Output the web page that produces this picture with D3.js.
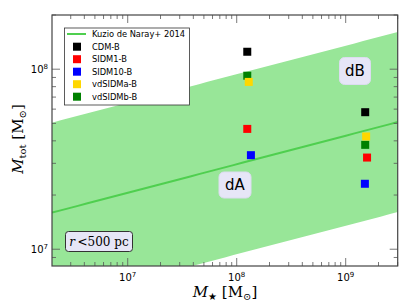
<!DOCTYPE html>
<html><head><meta charset="utf-8">
<script src="https://cdn.jsdelivr.net/npm/d3@7"></script>
<style>body{margin:0;background:#fff}svg{display:block}</style>
</head><body>
<svg id="c" width="407" height="305"></svg>
<script>
// ---- data ----
const seriesNames = ["CDM-B","SIDM1-B","SIDM10-B","vdSIDMa-B","vdSIDMb-B"];
const seriesColors = ["#000000","#ff0000","#0000ff","#ffd700","#008000"];
// [M_star, M_tot] for dwarf A and dwarf B
const cdmB     = [[1.25e8,1.25e8],[1.51e9,5.77e7]];
const sidm1B   = [[1.25e8,4.66e7],[1.57e9,3.23e7]];
const sidm10B  = [[1.35e8,3.33e7],[1.50e9,2.31e7]];
const vdsidmaB = [[1.29e8,8.5e7],[1.54e9,4.23e7]];
const vdsidmbB = [[1.25e8,9.2e7],[1.51e9,3.8e7]];
const seriesValues = [cdmB, sidm1B, sidm10B, vdsidmaB, vdsidmbB];
const drawOrder = [0,4,3,1,2];
// Kuzio de Naray+ 2014 relation: log Mtot = a + b (log M* - 8), scatter +-0.5 dex
const kdnA = 7.472, kdnB = 0.1586, kdnScatter = 0.5;
const xDomain = [2.02e6, 3.0e9];
const yDomain = [8.07e6, 2.0e8];
const xTickLabels = [1e7,1e8,1e9];
const yTickLabels = [1e7,1e8];

const svg = d3.select("#c");
const L=52, R=397.7, T=15, B=266;
const x = d3.scaleLog().domain(xDomain).range([L,R]);
const y = d3.scaleLog().domain(yDomain).range([B,T]);

const kdn = lx => kdnA + kdnB*(lx-8);
const xs = d3.range(0,41).map(i => Math.log10(xDomain[0]) + i*(Math.log10(xDomain[1])-Math.log10(xDomain[0]))/40);

svg.append("defs").append("clipPath").attr("id","pc").append("rect")
  .attr("x",L).attr("y",T).attr("width",R-L).attr("height",B-T);
const g = svg.append("g").attr("clip-path","url(#pc)");

g.append("path").datum(xs)
  .attr("d", d3.area().x(d=>x(10**d)).y0(d=>y(10**(kdn(d)-kdnScatter))).y1(d=>y(10**(kdn(d)+kdnScatter))))
  .attr("fill","#98e698");
g.append("path").datum(xs)
  .attr("d", d3.line().x(d=>x(10**d)).y(d=>y(10**kdn(d))))
  .attr("fill","none").attr("stroke","#4fcf4f").attr("stroke-width",2);

const S=8;
drawOrder.forEach(i=>{
  g.selectAll(null).data(seriesValues[i]).enter().append("rect")
    .attr("x",d=>x(d[0])-S/2).attr("y",d=>y(d[1])-S/2).attr("width",S).attr("height",S)
    .attr("fill",seriesColors[i]);
});

// label boxes
function labelBox(cx, cy, w, h, opts){
  const gg = svg.append("g");
  gg.append("rect").attr("x",cx-w/2).attr("y",cy-h/2).attr("width",w).attr("height",h)
    .attr("rx",opts.rx).attr("fill","#e6e6f7").attr("stroke",opts.stroke).attr("stroke-width",opts.sw);
  return gg.append("text").attr("x",cx).attr("y",cy).attr("text-anchor","middle").attr("dy","0.36em")
    .attr("font-family",opts.font).attr("font-size",opts.size).attr("fill","#000");
}
labelBox(355,71,31,27,{rx:5,stroke:"#dcdcf0",sw:1,font:"DejaVu Sans",size:15}).text("dB");
labelBox(235,185,32,26,{rx:5,stroke:"#dcdcf0",sw:1,font:"DejaVu Sans",size:15}).text("dA");
const rt = labelBox(99,241.5,67,20,{rx:3,stroke:"#333",sw:1,font:"DejaVu Serif",size:12});
rt.append("tspan").attr("font-style","italic").text("r");
rt.append("tspan").text("\u2009<500 pc");

// axes ticks (inward, all four sides)
const ax = svg.append("g").attr("stroke","#555").attr("stroke-width",0.8);
function logTicks(dom){
  const out=[];
  for(let e=Math.floor(Math.log10(dom[0])); e<=Math.ceil(Math.log10(dom[1])); e++){
    for(let m=1;m<10;m++){const v=m*10**e; if(v>=dom[0]&&v<=dom[1]) out.push([v,m===1]);}
  }
  return out;
}
logTicks(xDomain).forEach(([v,maj])=>{
  const len = maj?8:4, px=x(v);
  ax.append("line").attr("x1",px).attr("x2",px).attr("y1",B).attr("y2",B-len);
  ax.append("line").attr("x1",px).attr("x2",px).attr("y1",T).attr("y2",T+len);
});
logTicks(yDomain).forEach(([v,maj])=>{
  const len = maj?8:4, py=y(v);
  ax.append("line").attr("y1",py).attr("y2",py).attr("x1",L).attr("x2",L+len);
  ax.append("line").attr("y1",py).attr("y2",py).attr("x1",R).attr("x2",R-len);
});
svg.append("rect").attr("x",L).attr("y",T).attr("width",R-L).attr("height",B-T)
  .attr("fill","none").attr("stroke","#444").attr("stroke-width",1.2);

// tick labels
xTickLabels.forEach(v=>{
  const t=svg.append("text").attr("x",x(v)).attr("y",B+15).attr("text-anchor","middle")
    .attr("font-family","DejaVu Sans").attr("font-size",10);
  t.append("tspan").text("10");
  t.append("tspan").attr("dy",-4).attr("font-size",7).text(Math.round(Math.log10(v)));
});
yTickLabels.forEach(v=>{
  const t=svg.append("text").attr("x",L-4).attr("y",y(v)+4).attr("text-anchor","end")
    .attr("font-family","DejaVu Sans").attr("font-size",10);
  t.append("tspan").text("10");
  t.append("tspan").attr("dy",-4).attr("font-size",7).text(Math.round(Math.log10(v)));
});

// axis labels
const xl = svg.append("text").attr("x",225).attr("y",297).attr("text-anchor","middle")
  .attr("font-family","DejaVu Serif").attr("font-size",15);
xl.append("tspan").attr("font-style","italic").text("M");
xl.append("tspan").attr("font-size",10).attr("dy",3).text("\u2605");
xl.append("tspan").attr("dy",-3).text(" [M");
xl.append("tspan").attr("font-size",10).attr("dy",3).text("\u2299");
xl.append("tspan").attr("dy",-3).text("]");

const yl = svg.append("text").attr("transform","translate(23,139) rotate(-90)").attr("text-anchor","middle")
  .attr("font-family","DejaVu Serif").attr("font-size",15);
yl.append("tspan").attr("font-style","italic").text("M");
yl.append("tspan").attr("font-size",10).attr("dy",3).text("tot");
yl.append("tspan").attr("dy",-3).text(" [M");
yl.append("tspan").attr("font-size",10).attr("dy",3).text("\u2299");
yl.append("tspan").attr("dy",-3).text("]");

// legend
const lg = svg.append("g");
lg.append("rect").attr("x",64.5).attr("y",28).attr("width",125).attr("height",77)
  .attr("fill","#fff").attr("stroke","#333").attr("stroke-width",0.8);
lg.append("line").attr("x1",67).attr("x2",86).attr("y1",34).attr("y2",34).attr("stroke","#4fcf4f").attr("stroke-width",2);
lg.append("text").attr("x",92).attr("y",37).attr("font-family","DejaVu Sans").attr("font-size",8.3).text("Kuzio de Naray+ 2014");
seriesNames.forEach((n,i)=>{
  const yy = 46.7 + i*12.5;
  lg.append("rect").attr("x",73).attr("y",yy-4).attr("width",8).attr("height",8).attr("fill",seriesColors[i]);
  lg.append("text").attr("x",92).attr("y",yy+3).attr("font-family","DejaVu Sans").attr("font-size",8.3).text(n);
});
</script>
</body></html>
